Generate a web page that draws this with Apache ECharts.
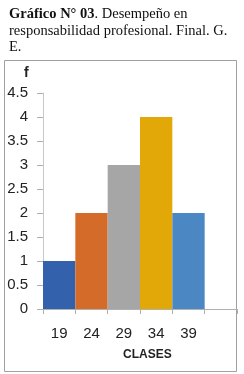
<!DOCTYPE html>
<html><head><meta charset="utf-8">
<script src="https://cdn.jsdelivr.net/npm/echarts@6/dist/echarts.min.js"></script>
<style>html,body{margin:0;padding:0;background:#fff}#c{width:244px;height:374px}</style>
</head><body><div id="c"></div>
<script>
const categories = ['19', '24', '29', '34', '39', ''];
const frequencies = [1, 2, 3, 4, 2, null];
const barColors = ['#3461ac', '#d46b29', '#a6a6a6', '#e2a807', '#4b87c3', '#ffffff'];
const yTicks = [0, 0.5, 1, 1.5, 2, 2.5, 3, 3.5, 4, 4.5];

const chart = echarts.init(document.getElementById('c'), null, {renderer: 'canvas'});
chart.setOption({
  animation: false,
  title: {
    left: 4, top: 1,
    text: '{b|Gráfico N° 03}. Desempeño en\nresponsabilidad profesional. Final. G.\nE.',
    textStyle: {
      fontFamily: 'Liberation Serif', fontSize: 14.5, fontWeight: 'normal', color: '#111',
      lineHeight: 16.5,
      rich: { b: { fontFamily: 'Liberation Serif', fontSize: 14.5, fontWeight: 'bold', color: '#111', lineHeight: 16.5 } }
    }
  },
  graphic: [
    { type: 'rect', shape: { x: 4.5, y: 60.5, width: 232, height: 311 }, style: { fill: 'none', stroke: '#a0a0a0', lineWidth: 1 }, silent: true },
    { type: 'text', left: 24, top: 66, style: { text: 'f', font: 'bold 14px "Liberation Sans"', fill: '#222' } },
    { type: 'text', left: 123, top: 349, style: { text: 'CLASES', font: 'bold 12px "Liberation Sans"', fill: '#222' } }
  ],
  grid: { left: 43, top: 93, width: 194, height: 216 },
  xAxis: {
    type: 'category', data: categories,
    axisLine: { lineStyle: { color: '#b0b0b0' } },
    axisTick: { show: true, length: 5, lineStyle: { color: '#b0b0b0' } },
    axisLabel: { fontFamily: 'Liberation Sans', fontSize: 15, color: '#222', margin: 17 }
  },
  yAxis: {
    type: 'value', min: 0, max: 4.5, interval: 0.5,
    axisLine: { show: true, lineStyle: { color: '#c8c8c8' } },
    axisTick: { show: true, length: 6, lineStyle: { color: '#b0b0b0' } },
    splitLine: { show: false },
    axisLabel: { fontFamily: 'Liberation Sans', fontSize: 15, color: '#222', margin: 15,
      formatter: v => String(yTicks.includes(v) ? v : '') }
  },
  series: [{
    type: 'bar', data: frequencies.map((v, i) => ({ value: v, itemStyle: { color: barColors[i] } })),
    barCategoryGap: '0%'
  }]
});
</script></body></html>
